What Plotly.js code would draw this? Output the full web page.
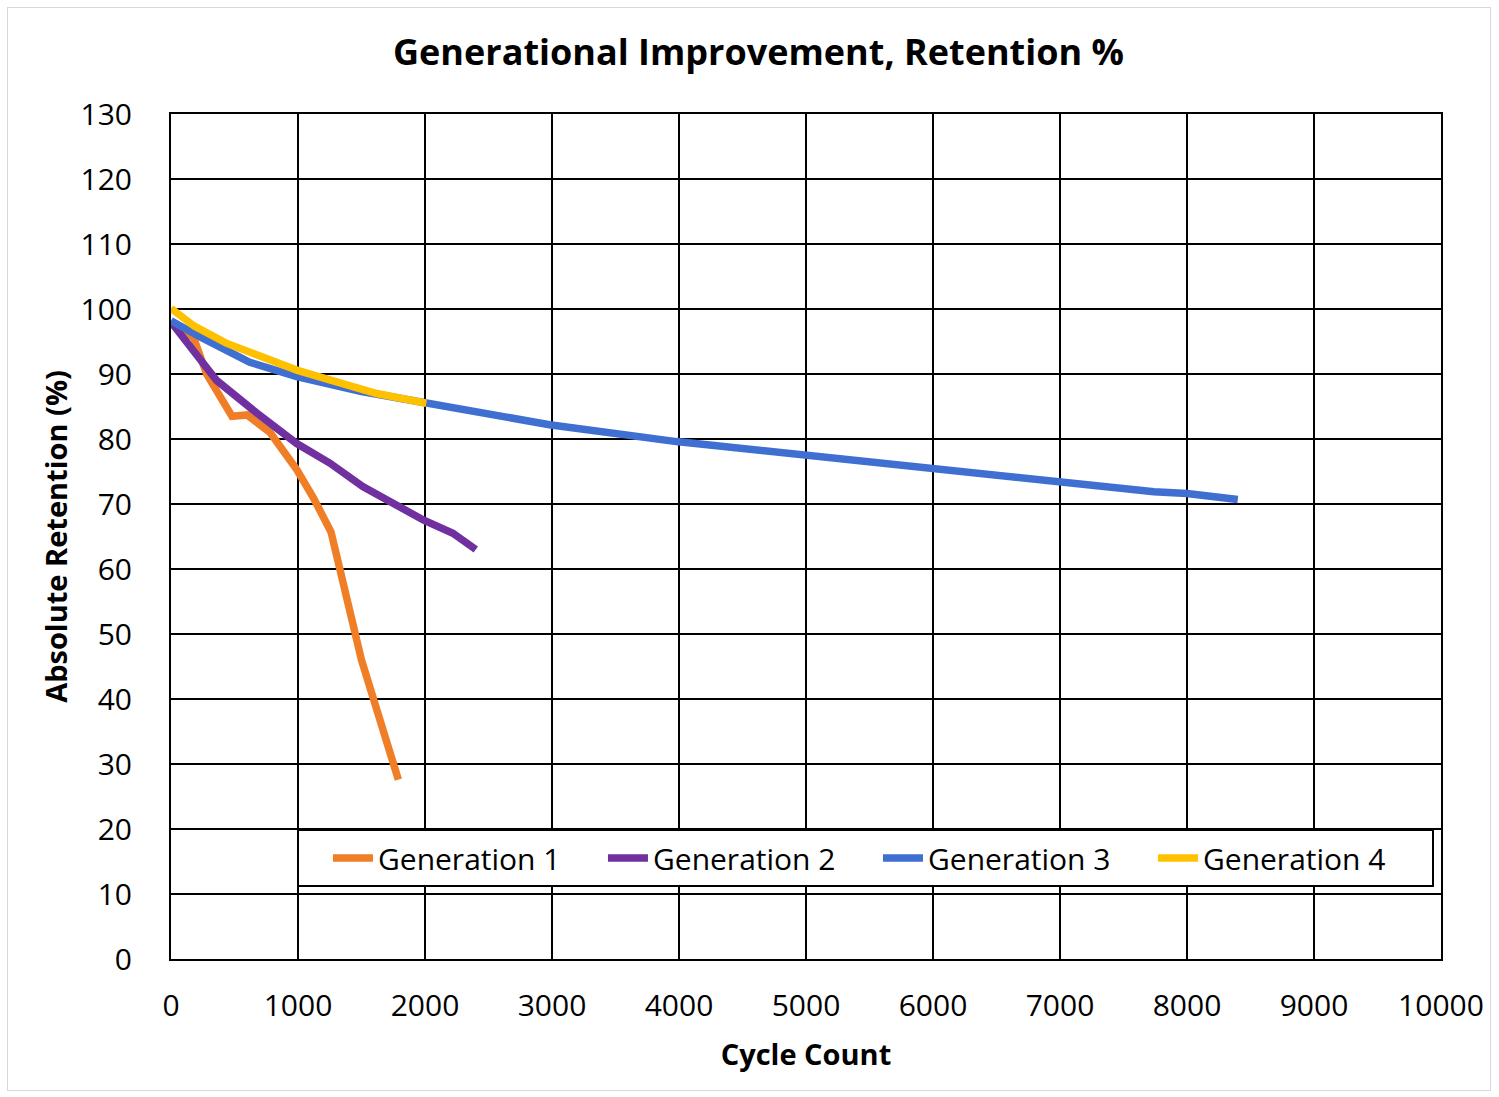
<!DOCTYPE html>
<html><head><meta charset="utf-8">
<script src="https://cdn.plot.ly/plotly-3.0.1.min.js"></script>
<style>
html,body{margin:0;padding:0;background:#fff;}
#frame{position:absolute;left:7px;top:7px;width:1484px;height:1084px;border:1px solid #d8d8d8;box-sizing:border-box;pointer-events:none;}
#chart{width:1499px;height:1097px;}
</style></head>
<body>
<div id="chart"></div><div id="frame"></div>
<script>
const gen1X = [0, 180, 280, 480, 600, 780, 990, 1120, 1260, 1500, 1790];
const gen1Y = [98, 95.5, 90, 83.5, 83.7, 81, 75.3, 71, 65.7, 46, 27.6];
const gen2X = [0, 230, 360, 675, 990, 1250, 1510, 1990, 2220, 2400];
const gen2Y = [98, 92, 89, 84, 79.3, 76.3, 72.7, 67.5, 65.5, 63];
const gen3X = [0, 230, 620, 990, 1500, 2040, 2980, 3980, 4950, 5480, 6000, 6530, 7000, 7740, 8000, 8400];
const gen3Y = [98.2, 95.7, 91.8, 89.6, 87.3, 85.4, 82.2, 79.6, 77.6, 76.3, 75.3, 74.2, 73.2, 71.9, 71.6, 70.7];
const gen4X = [0, 180, 440, 700, 990, 1250, 1620, 2010];
const gen4Y = [100.1, 97.4, 94.7, 92.7, 90.6, 89.1, 87, 85.5];
const seriesNames = ['Generation 1', 'Generation 2', 'Generation 3', 'Generation 4'];
const colors = ['#F07E26', '#7030A0', '#3F6FD0', '#FFC000'];
const xs = [gen1X, gen2X, gen3X, gen4X];
const ys = [gen1Y, gen2Y, gen3Y, gen4Y];
const xTicks = [0,1000,2000,3000,4000,5000,6000,7000,8000,9000,10000];
const yTicks = [0,10,20,30,40,50,60,70,80,90,100,110,120,130];

const font = '"Open Sans", "Noto Sans", sans-serif';
const traces = xs.map((x, i) => ({
  x: x, y: ys[i], name: seriesNames[i], type: 'scatter', mode: 'lines',
  line: {color: colors[i], width: 7.5, shape: 'linear'}
}));

const layout = {
  width: 1499, height: 1097,
  margin: {l: 171, r: 58, t: 114, b: 138},
  paper_bgcolor: '#fff', plot_bgcolor: '#fff',
  font: {family: font, color: '#000', size: 30},
  title: {text: '<b>Generational Improvement, Retention %</b>', x: 0.506, xanchor: 'center', y: 0.952, yanchor: 'middle',
          font: {family: font, size: 36, color: '#000'}},
  xaxis: {
    range: [0, 10000], tickvals: xTicks, ticktext: xTicks.map(String),
    showgrid: true, gridcolor: '#000', gridwidth: 2, zeroline: false,
    showline: true, linecolor: '#000', linewidth: 2, mirror: true,
    ticks: '', ticklen: 0, ticklabelstandoff: 19, tickfont: {size: 30, family: font}, automargin: false,
    title: {text: '<b>Cycle Count</b>', font: {size: 29, family: font}, standoff: 21}
  },
  yaxis: {
    range: [0, 130], tickvals: yTicks, ticktext: yTicks.map(String),
    showgrid: true, gridcolor: '#000', gridwidth: 2, zeroline: false,
    showline: true, linecolor: '#000', linewidth: 2, mirror: true,
    ticks: '', ticklen: 0, ticklabelstandoff: 31, tickfont: {size: 30, family: font}, automargin: false,
    title: {text: '<b>Absolute Retention (%)</b>', font: {size: 29, family: font}, standoff: 4}
  },
  shapes: [{
    type: 'rect', xref: 'paper', yref: 'paper', layer: 'above',
    x0: 0.1, x1: 0.9937, y0: 0.0864, y1: 0.1527,
    fillcolor: '#fff', line: {color: '#000', width: 2}
  }],
  legend: {
    orientation: 'h', xref: 'paper', yref: 'paper',
    x: 0.1236, xanchor: 'left', y: 0.1195, yanchor: 'middle',
    bgcolor: 'rgba(0,0,0,0)', borderwidth: 0,
    font: {size: 30, family: font, color: '#000'}, itemwidth: 40,
    entrywidth: 220, entrywidthmode: 'pixels', tracegroupgap: 0
  },
  showlegend: true
};
Plotly.newPlot('chart', traces, layout, {displayModeBar: false, staticPlot: true});
</script>
</body></html>
